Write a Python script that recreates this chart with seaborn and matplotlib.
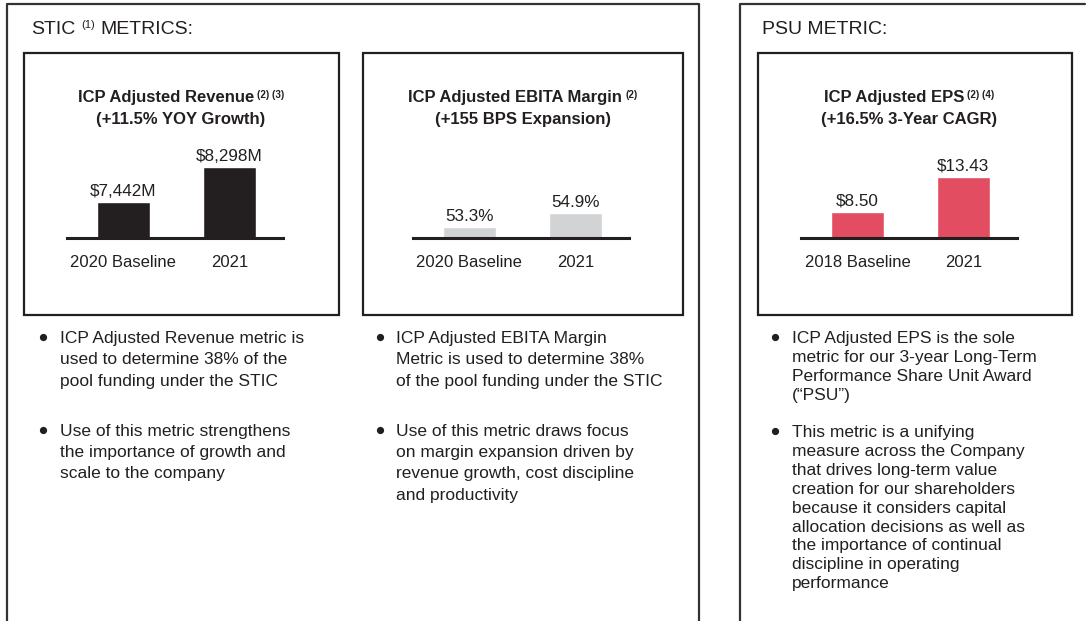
import matplotlib
matplotlib.use("Agg")
import matplotlib.pyplot as plt
from matplotlib.patches import Rectangle
import seaborn as sns

# === Data ===
rev_cats = ["2020 Baseline", "2021"]
rev_vals = [7442, 8298]

ebita_cats = ["2020 Baseline", "2021"]
ebita_vals = [53.3, 54.9]

eps_cats = ["2018 Baseline", "2021"]
eps_vals = [8.50, 13.43]

rev_bullets = [
    ["ICP Adjusted Revenue metric is", "used to determine 38% of the", "pool funding under the STIC"],
    ["Use of this metric strengthens", "the importance of growth and", "scale to the company"],
]
ebita_bullets = [
    ["ICP Adjusted EBITA Margin", "Metric is used to determine 38%", "of the pool funding under the STIC"],
    ["Use of this metric draws focus", "on margin expansion driven by",
     "revenue growth, cost discipline", "and productivity"],
]
eps_bullets = [
    ["ICP Adjusted EPS is the sole", "metric for our 3-year Long-Term",
     "Performance Share Unit Award", "(\u201cPSU\u201d)"],
    ["This metric is a unifying", "measure across the Company", "that drives long-term value",
     "creation for our shareholders", "because it considers capital",
     "allocation decisions as well as", "the importance of continual",
     "discipline in operating", "performance"],
]

DARK = "#231f20"
W, H = 1089, 621

sns.set_style("white")
plt.rcParams["font.family"] = ["Liberation Sans", "DejaVu Sans"]
plt.rcParams["text.color"] = DARK

fig = plt.figure(figsize=(W / 100, H / 100), dpi=100)

# background axes in pixel units (y down)
bg = fig.add_axes([0, 0, 1, 1])
bg.set_xlim(0, W)
bg.set_ylim(H, 0)
bg.axis("off")

# outer section frames
bg.plot([7, 7, 699, 699], [H + 5, 4, 4, H + 5], color="#333333", lw=1.6)
bg.plot([740, 740, 1085], [H + 5, 4, 4], color="#333333", lw=1.6)

# inner chart boxes
for x0, x1 in [(24, 339), (363, 683), (758, 1072)]:
    bg.add_patch(Rectangle((x0, 52.5), x1 - x0, 262.5, fill=False, lw=1.6, ec=DARK))

# === Bar charts ===
def bar_panel(left_px, cats, vals, color, ylim, labels):
    ax = fig.add_axes([left_px / W, 1 - 238 / H, 216 / W, 98 / H])
    sns.barplot(x=cats, y=vals, color=color, saturation=1, width=0.5, ax=ax)
    ax.set_xlim(-0.53, 1.51)
    ax.set_ylim(*ylim)
    ax.set_facecolor("none")
    for s in ["left", "right", "top"]:
        ax.spines[s].set_visible(False)
    ax.spines["bottom"].set_linewidth(2.2)
    ax.spines["bottom"].set_color(DARK)
    ax.set_yticks([])
    ax.set_xlabel("")
    ax.set_ylabel("")
    ax.tick_params(axis="x", length=0, pad=12, labelsize=12, labelcolor=DARK)
    ax.bar_label(ax.containers[0], labels=labels, padding=2.5, fontsize=12.3, color=DARK)
    return ax

bar_panel(67.3, rev_cats, rev_vals, DARK, (6562, 8958), [f"${v:,}M" for v in rev_vals])
bar_panel(413.3, ebita_cats, ebita_vals, "#d1d3d4", (52.04, 63.25), [f"{v}%" for v in ebita_vals])
bar_panel(801.3, eps_cats, eps_vals, "#e34d62", (4.89, 18.7), [f"${v:.2f}" for v in eps_vals])

# === Titles (main text + superscript, measured after a draw) ===
pending = []

def title_line(cx, y, main, sup):
    t = bg.text(cx, y, main, ha="left", va="baseline", fontsize=12, fontweight="bold")
    s = bg.text(cx, y - 4, sup, ha="left", va="baseline", fontsize=7, fontweight="bold") if sup else None
    pending.append((cx, t, s))

title_line(181, 102, "ICP Adjusted Revenue", "(2) (3)")
title_line(181, 124, "(+11.5% YOY Growth)", None)
title_line(523, 102, "ICP Adjusted EBITA Margin", "(2)")
title_line(523, 124, "(+155 BPS Expansion)", None)
title_line(909, 102, "ICP Adjusted EPS", "(2) (4)")
title_line(909, 124, "(+16.5% 3-Year CAGR)", None)

sec1 = bg.text(31, 34, "STIC", ha="left", va="baseline", fontsize=14)
sec1_sup = bg.text(0, 27.5, "(1)", ha="left", va="baseline", fontsize=8)
sec1_end = bg.text(0, 34, "METRICS:", ha="left", va="baseline", fontsize=14)
bg.text(762, 34, "PSU METRIC:", ha="left", va="baseline", fontsize=14)

# === Bullets ===
def bullets(x_dot, x_txt, starts, groups, spacing):
    for y0, lines in zip(starts, groups):
        bg.plot([x_dot], [y0 - 6.5], marker="o", markersize=4.2, color=DARK, linestyle="none")
        for i, line in enumerate(lines):
            bg.text(x_txt, y0 + i * spacing, line, ha="left", va="baseline", fontsize=12.5)

bullets(42.5, 59.5, [343.3, 436], rev_bullets, 21.2)
bullets(380, 396.5, [343.3, 436], ebita_bullets, 21.2)
bullets(775, 792, [343, 437], eps_bullets, 18.9)

fig.canvas.draw()
r = fig.canvas.get_renderer()

for cx, t, s in pending:
    wm = t.get_window_extent(r).width
    ws = s.get_window_extent(r).width if s else 0
    gap = 3 if s else 0
    left = cx - (wm + gap + ws) / 2
    t.set_x(left)
    if s:
        s.set_x(left + wm + gap)

x1 = sec1.get_window_extent(r).x1
sec1_sup.set_x(x1 + 6)
x2 = x1 + 6 + sec1_sup.get_window_extent(r).width
sec1_end.set_x(x2 + 5)

fig.savefig("out.png", dpi=100)
